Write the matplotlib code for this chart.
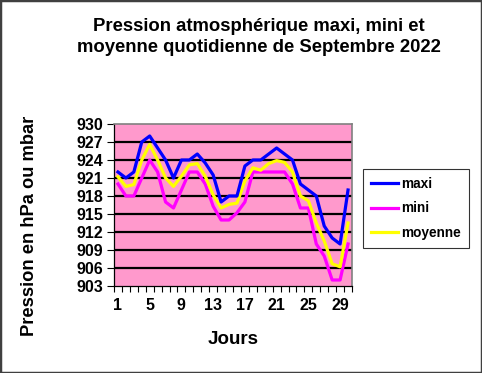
import numpy as np
import matplotlib
matplotlib.use("Agg")
from matplotlib import pyplot as plt
from matplotlib.patches import Rectangle

plt.rcParams["font.family"] = ["Liberation Sans", "DejaVu Sans"]
plt.rcParams["font.weight"] = "bold"

# Daily pressure values (hPa), September 2022
days = list(range(1, 31))
maxi = [922, 921, 922, 927, 928, 926, 924, 921, 924, 924,
        925, 923.5, 921.5, 917, 918, 918, 923, 924, 924, 925,
        926, 925, 924, 920, 919, 918, 913, 911, 910, 919]
mini = [920, 918, 918, 921, 924, 922, 917, 916, 919, 922,
        922, 920, 916.3, 914, 914, 915.2, 917, 922, 922, 922,
        922, 922, 920, 916, 916, 910, 908, 904, 904, 910]
moyenne = [921.2, 919.6, 919.9, 924, 926.6, 924, 921, 919.6, 921.3, 923.2,
           923.4, 921.3, 918.2, 916, 916.6, 916.8, 920.5, 922.7, 922.3, 923.4,
           923.9, 923.6, 922, 918, 917.2, 913.5, 910.5, 906.7, 906.2, 913.5]
yticks = list(range(903, 931, 3))
xlabels_shown = [1, 5, 9, 13, 17, 21, 25, 29]

W, H = 482, 373
fig = plt.figure(figsize=(W / 100, H / 100), dpi=100)
fig.patch.set_facecolor("white")

# plot area in pixel coords: x 114..352, y 124..286
ax = fig.add_axes([114 / W, 1 - 286 / H, (352 - 114) / W, (286 - 124) / H])
ax.set_facecolor("#FF99CC")

x = np.arange(len(days))
ax.plot(x, maxi, color="#0000FF", lw=2.3, label="maxi", zorder=5)
ax.plot(x, mini, color="#FF00FF", lw=2.3, label="mini", zorder=3)
ax.plot(x, moyenne, color="#FFFF00", lw=2.3, label="moyenne", zorder=4)

ax.set_ylim(903, 930)
ax.set_yticks(yticks)
ax.set_yticklabels([str(v) for v in yticks], fontsize=11.5, fontweight="bold")
for v in yticks[1:-1]:
    ax.axhline(v, color="black", lw=1.6, zorder=1)

ax.set_xlim(-0.5, len(days) - 0.5)
ax.set_xticks([d - 1 for d in xlabels_shown])
ax.set_xticklabels([str(d) for d in xlabels_shown], fontsize=11.5, fontweight="bold")
ax.set_xticks(np.arange(-0.5, len(days), 1.0), minor=True)
ax.tick_params(axis="x", which="major", length=0, pad=9)
ax.tick_params(axis="x", which="minor", length=4, width=0.8, direction="out")
ax.tick_params(axis="y", length=5, width=0.8, direction="out", pad=3)

for s in ["top", "right"]:
    ax.spines[s].set_color("#808080")
    ax.spines[s].set_linewidth(1.2)
for s in ["left", "bottom"]:
    ax.spines[s].set_color("black")
    ax.spines[s].set_linewidth(0.9)

fig.text(259 / W, 1 - 37 / H,
         "Pression atmosphérique maxi, mini et\nmoyenne quotidienne de Septembre 2022",
         ha="center", va="center", fontsize=13.3, fontweight="bold", linespacing=1.38)
fig.text(30 / W, 1 - 226 / H, "Pression en hPa ou mbar", rotation=90,
         ha="center", va="center", fontsize=13.2, fontweight="bold")
fig.text(233 / W, 1 - 340 / H, "Jours", ha="center", va="center",
         fontsize=13.5, fontweight="bold")

leg = fig.legend(loc="upper left", bbox_to_anchor=(363 / W, 1 - 169 / H),
                 bbox_transform=fig.transFigure, fancybox=False, frameon=True,
                 edgecolor="black", prop={"size": 9.8, "weight": "bold"},
                 handlelength=2.0, handletextpad=0.2, labelspacing=0.75,
                 borderpad=0.6, borderaxespad=0)
leg.get_frame().set_linewidth(0.8)

fig.patches.append(Rectangle((0, 0), 1, 1, transform=fig.transFigure,
                             fill=False, edgecolor="#404040", lw=2.5))

fig.savefig("out.png", dpi=100)
